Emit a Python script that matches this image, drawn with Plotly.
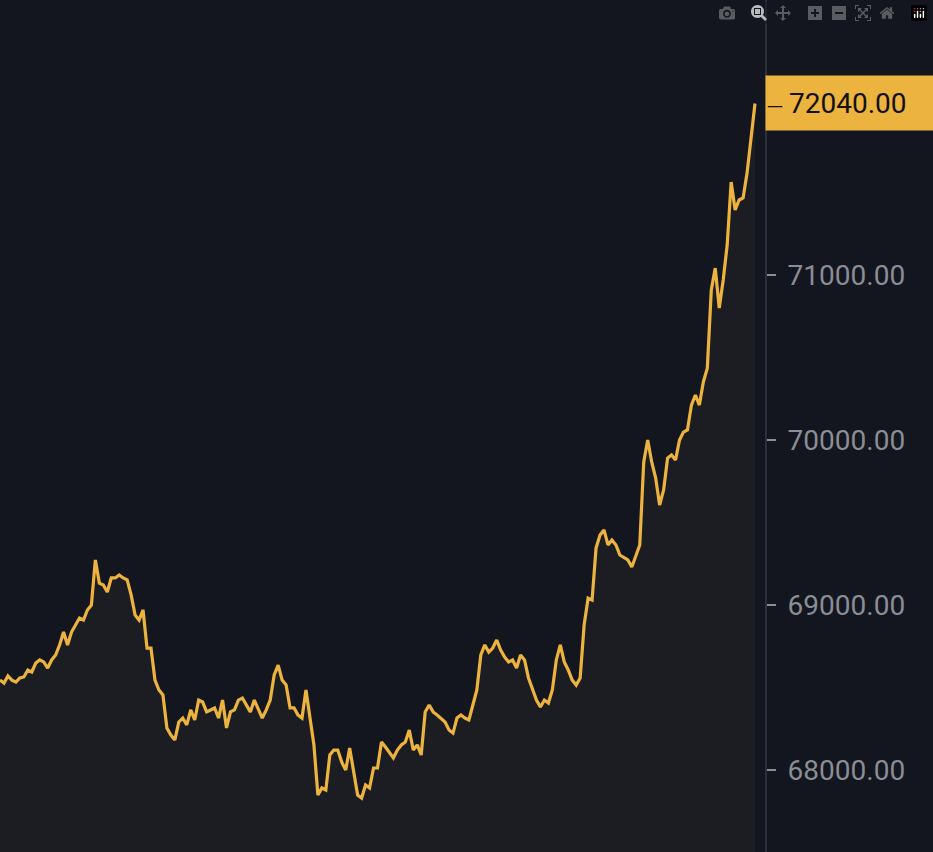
import plotly.graph_objects as go

prices = [68545,68527,68570,68545,68533,68558,68564,68606,68594,68648,68667,68655,68618,68667,68697,68758,68836,68758,68836,68879,68921,68909,68970,69000,69273,69133,69121,69079,69164,69164,69182,69164,69152,69061,68939,68909,68970,68739,68739,68545,68485,68455,68255,68212,68182,68291,68315,68273,68364,68303,68424,68412,68352,68364,68376,68315,68424,68255,68352,68364,68424,68436,68394,68352,68424,68364,68315,68364,68424,68576,68636,68545,68515,68376,68376,68333,68315,68485,68303,68152,67848,67891,67879,68091,68121,68121,68048,68000,68133,67988,67848,67830,67909,67891,68012,68012,68170,68139,68109,68073,68121,68152,68170,68242,68121,68152,68091,68352,68394,68352,68333,68315,68291,68242,68224,68315,68333,68315,68303,68394,68485,68697,68758,68715,68739,68788,68727,68685,68655,68667,68618,68697,68667,68558,68497,68424,68382,68424,68406,68485,68667,68758,68655,68606,68545,68515,68558,68879,69042,69030,69345,69424,69455,69364,69394,69364,69303,69285,69273,69230,69303,69364,69867,70000,69867,69770,69606,69697,69891,69909,69879,70000,70048,70061,70212,70273,70212,70352,70436,70909,71042,70800,70970,71182,71564,71394,71455,71467,71618,71818,72040]
tick_vals = [68000, 69000, 70000, 71000]
last_price = prices[-1]

n = len(prices)
xs = list(range(n))
fig = go.Figure(go.Scatter(x=xs, y=prices, mode="lines",
    line=dict(color="#ecb33e", width=3.2), fill="tozeroy", fillcolor="#1c1d22"))
fig.update_layout(
    width=933, height=852, margin=dict(l=0, r=168, t=0, b=0),
    paper_bgcolor="#13161e", plot_bgcolor="#13161e", showlegend=False,
    font=dict(family="Roboto", color="#8a8d94", size=28),
    xaxis=dict(range=[0, (n - 1) * 765 / 755], visible=False, fixedrange=True),
    yaxis=dict(side="right", range=[67503, 72667], tickvals=tick_vals,
        tickformat=".2f", showgrid=False, zeroline=False, showline=True,
        linecolor="#2c3038", linewidth=2, ticks="outside", ticklen=9,
        tickcolor="#8a8d94", tickwidth=2, ticklabelstandoff=6),
)
fig.add_annotation(x=1, xref="paper", y=last_price, yref="y", xanchor="left",
    text="‒ %.2f" % last_price, showarrow=False, bgcolor="#ecb33e",
    font=dict(color="#111", size=28, family="Roboto"), width=166, height=52,
    align="left")
fig.write_html("out.html",
    post_script="document.body.style.margin='0';document.body.style.background='#13161e';")
